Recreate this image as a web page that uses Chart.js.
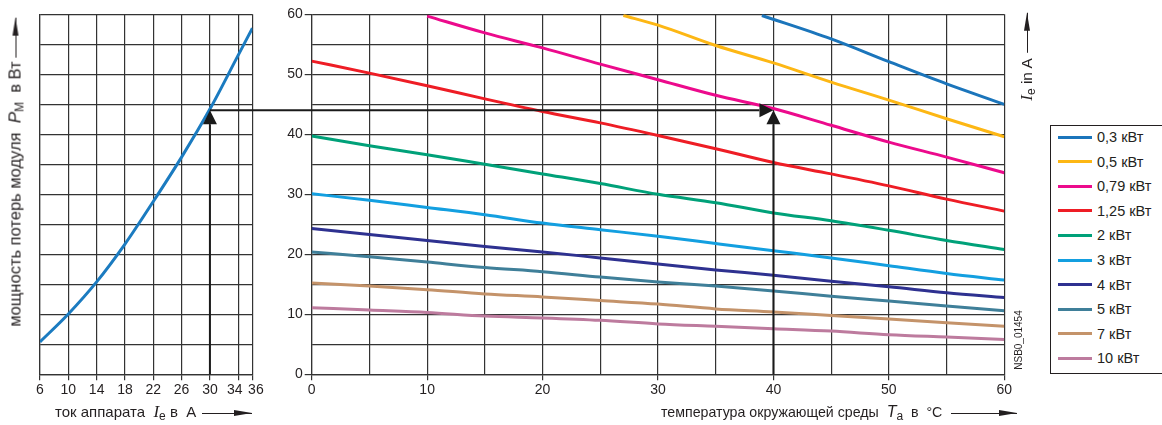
<!DOCTYPE html>
<html lang="ru">
<head>
<meta charset="UTF-8">
<title>Мощность потерь модуля</title>
<script src="https://cdn.jsdelivr.net/npm/chart.js"></script>
<style>
    body {
        margin: 0;
        background: #fff;
        font-family: "Liberation Sans", Arial, sans-serif;
        color: #231f20;
    }
    #page {
        position: relative;
        width: 1162px;
        height: 425px;
        overflow: hidden;
    }
    #left-wrap { position: absolute; left: 0; top: 0; }
    #right-wrap { position: absolute; left: 282px; top: 0; }
    .title {
        position: absolute;
        white-space: nowrap;
        font-size: 15px;
        line-height: 16px;
    }
    .vert { transform: translate(-50%, -50%) rotate(-90deg); }
    .sym { font-family: "Liberation Serif", serif; font-style: italic; font-size: 17px; }
    .symsans { font-style: italic; font-size: 16px; }
    sub { font-size: 12px; vertical-align: -3px; line-height: 0; }
    .arr {
        display: inline-block;
        position: relative;
        width: 50px;
        height: 1px;
        background: #231f20;
        vertical-align: middle;
        margin-left: 6px;
    }
    .arr::after {
        content: '';
        position: absolute;
        right: 0;
        top: -3px;
        border-left: 18px solid #231f20;
        border-top: 3.5px solid transparent;
        border-bottom: 3.5px solid transparent;
    }
    #legend {
        position: absolute;
        left: 1050px;
        top: 125px;
        width: 120px;
        height: 249px;
        border: 1px solid #231f20;
        box-sizing: border-box;
    }
    .item {
        position: absolute;
        left: 7px;
        height: 20px;
        font-size: 14.5px;
        line-height: 20px;
        white-space: nowrap;
    }
    .item span.line {
        display: inline-block;
        width: 34px;
        height: 3px;
        vertical-align: middle;
        margin-right: 5px;
        margin-top: -2px;
    }
    #code {
        position: absolute;
        left: 1018px;
        top: 340px;
        font-size: 10px;
        white-space: nowrap;
    }
</style>
</head>
<body>
<div id="page">
    <div id="left-wrap"><canvas id="lossChart" width="282" height="425"></canvas></div>
    <div id="right-wrap"><canvas id="currentChart" width="763" height="425"></canvas></div>

    <div class="title vert" style="left:15px; top:172px; font-size:16.5px;">мощность потерь модуля&nbsp; <span class="symsans" style="font-size:17px;">P</span><sub>M</sub>&nbsp; в Вт<span class="arr" style="width:40px; margin-left:4px;"></span></div>
    <div class="title" style="left:55px; top:404px;">ток аппарата&nbsp; <span class="sym">I</span><sub>e</sub> в&nbsp; А<span class="arr"></span></div>
    <div class="title" style="left:661px; top:404px; font-size:14.2px;">температура окружающей среды&nbsp; <span class="symsans">T</span><sub>a</sub>&nbsp; в&nbsp; °C<span class="arr" style="width:66px; margin-left:9px;"></span></div>
    <div class="title vert" style="left:1027px; top:57px; font-size:15.5px;"><span class="sym">I</span><sub>e</sub> in A<span class="arr" style="width:40px; margin-left:5px;"></span></div>
    <div id="code" class="vert">NSB0_01454</div>
    <div id="legend"></div>
</div>

<script>
    // left diagram: module power loss vs. device current
    const leftXTicks = [6, 10, 14, 18, 22, 26, 30, 34, 36];
    const deviceCurrent = [6, 10, 14, 18, 22, 26, 30, 34, 36];
    const powerLoss = [5.4, 10.05, 15.4, 21.7, 28.8, 36.2, 44.2, 53.2, 57.7];

    // right diagram: permissible current vs. ambient temperature
    const tempAxis = [0, 5, 10, 15, 20, 25, 30, 35, 40, 45, 50, 55, 60];
    const temp03 = [39, 45, 50, 55, 60];
    const cur03 = [59.8, 55.9, 52.1, 48.4, 45.0];
    const temp05 = [27, 30, 35, 40, 45, 50, 55, 60];
    const cur05 = [59.8, 58.2, 54.8, 51.9, 48.7, 45.7, 42.6, 39.6];
    const temp079 = [10, 15, 20, 25, 30, 35, 40, 45, 50, 55, 60];
    const cur079 = [59.7, 56.9, 54.4, 51.7, 49.1, 46.5, 44.3, 41.5, 38.7, 36.2, 33.6];
    const cur125 = [52.2, 50.2, 48.1, 45.9, 43.8, 41.9, 39.8, 37.6, 35.3, 33.4, 31.4, 29.2, 27.2];
    const cur2 = [39.7, 38.1, 36.6, 35.0, 33.4, 31.8, 30.0, 28.6, 26.9, 25.6, 24.0, 22.3, 20.8];
    const cur3 = [30.1, 29.0, 27.8, 26.6, 25.2, 24.1, 23.0, 21.8, 20.6, 19.4, 18.1, 16.8, 15.7];
    const cur4 = [24.3, 23.3, 22.3, 21.3, 20.4, 19.4, 18.4, 17.4, 16.5, 15.5, 14.6, 13.6, 12.8];
    const cur5 = [20.4, 19.6, 18.7, 17.8, 17.1, 16.2, 15.4, 14.7, 13.9, 13.0, 12.2, 11.4, 10.6];
    const cur7 = [15.2, 14.7, 14.1, 13.4, 12.9, 12.3, 11.7, 10.9, 10.4, 9.8, 9.2, 8.6, 8.0];
    const cur10 = [11.1, 10.7, 10.3, 9.7, 9.4, 9.0, 8.4, 8.0, 7.6, 7.2, 6.6, 6.2, 5.8];

    const seriesLabels = ['0,3 кВт', '0,5 кВт', '0,79 кВт', '1,25 кВт', '2 кВт', '3 кВт', '4 кВт', '5 кВт', '7 кВт', '10 кВт'];
    const seriesColors = ['#1b75bb', '#fdb714', '#ec0a8c', '#ee1d25', '#00a179', '#139fe0', '#2e3190', '#3f7f99', '#c4936a', '#bd7b9e'];

    // example read-off: 30 A -> 44 W -> 40 °C
    const exampleCurrent = 30;
    const examplePower = 44;
    const exampleTemp = 40;

    const gridColor = '#333333';
    const textColor = '#231f20';
    const tickFont = { family: '"Liberation Sans", Arial, sans-serif', size: 14 };

    const pairs = (xs, ys) => xs.map((x, i) => ({ x: x, y: ys[i] }));

    // draws the black read-off arrows in data coordinates
    const arrowPlugin = {
        id: 'arrows',
        afterDatasetsDraw(chart, args, opts) {
            const { ctx } = chart;
            const sx = chart.scales.x, sy = chart.scales.y;
            const px = v => v === 'left' ? 0 : v === 'right' ? chart.width : sx.getPixelForValue(v);
            ctx.save();
            ctx.strokeStyle = '#1a1a1a';
            ctx.fillStyle = '#1a1a1a';
            ctx.lineWidth = 2;
            (opts.items || []).forEach(a => {
                const x0 = px(a.from[0]), y0 = sy.getPixelForValue(a.from[1]);
                const x1 = px(a.to[0]), y1 = sy.getPixelForValue(a.to[1]);
                const ang = Math.atan2(y1 - y0, x1 - x0);
                const len = a.head ? 14 : 0;
                ctx.beginPath();
                ctx.moveTo(x0, y0);
                ctx.lineTo(x1 - Math.cos(ang) * len, y1 - Math.sin(ang) * len);
                ctx.stroke();
                if (a.head) {
                    const w = 7;
                    const bx = x1 - Math.cos(ang) * len, by = y1 - Math.sin(ang) * len;
                    ctx.beginPath();
                    ctx.moveTo(x1, y1);
                    ctx.lineTo(bx + Math.sin(ang) * w, by - Math.cos(ang) * w);
                    ctx.lineTo(bx - Math.sin(ang) * w, by + Math.cos(ang) * w);
                    ctx.closePath();
                    ctx.fill();
                }
            });
            ctx.restore();
        }
    };

    // left chart
    new Chart(document.getElementById('lossChart'), {
        type: 'line',
        data: {
            datasets: [{
                data: pairs(deviceCurrent, powerLoss),
                borderColor: '#1b7bc0',
                borderWidth: 3,
                pointRadius: 0,
                cubicInterpolationMode: 'monotone',
            }],
        },
        options: {
            responsive: false,
            animation: false,
            layout: { padding: { top: 14.3, right: 29.6, left: 0, bottom: 0 } },
            plugins: {
                legend: { display: false },
                tooltip: { enabled: false },
                arrows: {
                    items: [
                        { from: [exampleCurrent, 0], to: [exampleCurrent, examplePower], head: true },
                        { from: [exampleCurrent, examplePower], to: ['right', examplePower] },
                    ],
                },
            },
            scales: {
                x: {
                    type: 'linear',
                    min: 6,
                    max: 36,
                    afterBuildTicks: s => { s.ticks = leftXTicks.map(v => ({ value: v })); },
                    afterFit: s => { s.height = 50.7; },
                    grid: { color: gridColor, lineWidth: 1.2, tickLength: 6 },
                    border: { color: gridColor, width: 1.2 },
                    ticks: {
                        font: tickFont,
                        color: textColor,
                        autoSkip: false,
                        maxRotation: 0,
                        padding: 1,
                        // nudge the two crowded end labels apart
                        callback: v => v === 34 ? '34\u2002' : v === 36 ? '\u200236' : v,
                    },
                },
                y: {
                    min: 0,
                    max: 60,
                    afterFit: s => { s.width = 40; },
                    grid: { color: gridColor, lineWidth: 1.2, drawTicks: false },
                    border: { color: gridColor, width: 1.2 },
                    ticks: { stepSize: 5, display: false },
                },
            },
        },
        plugins: [arrowPlugin],
    });

    // right chart
    const rightData = [
        pairs(temp03, cur03),
        pairs(temp05, cur05),
        pairs(temp079, cur079),
        pairs(tempAxis, cur125),
        pairs(tempAxis, cur2),
        pairs(tempAxis, cur3),
        pairs(tempAxis, cur4),
        pairs(tempAxis, cur5),
        pairs(tempAxis, cur7),
        pairs(tempAxis, cur10),
    ];

    const tenOnly = c => (c.tick && c.tick.value % 10 === 0) ? gridColor : 'rgba(0,0,0,0)';

    new Chart(document.getElementById('currentChart'), {
        type: 'line',
        data: {
            datasets: rightData.map((d, i) => ({
                label: seriesLabels[i],
                data: d,
                borderColor: seriesColors[i],
                borderWidth: 3,
                pointRadius: 0,
                cubicInterpolationMode: 'monotone',
            })),
        },
        options: {
            responsive: false,
            animation: false,
            layout: { padding: { top: 14.3, right: 40.7, left: 0, bottom: 0 } },
            plugins: {
                legend: { display: false },
                tooltip: { enabled: false },
                arrows: {
                    items: [
                        { from: ['left', examplePower], to: [exampleTemp, examplePower], head: true },
                        { from: [exampleTemp, 0], to: [exampleTemp, examplePower], head: true },
                    ],
                },
            },
            scales: {
                x: {
                    type: 'linear',
                    min: 0,
                    max: 60,
                    afterFit: s => { s.height = 50.7; },
                    grid: { color: gridColor, lineWidth: 1.2, tickLength: 6, tickColor: tenOnly },
                    border: { color: gridColor, width: 1.2 },
                    ticks: {
                        stepSize: 5,
                        font: tickFont,
                        color: textColor,
                        autoSkip: false,
                        maxRotation: 0,
                        padding: 1,
                        callback: v => v % 10 === 0 ? v : '',
                    },
                },
                y: {
                    min: 0,
                    max: 60,
                    afterFit: s => { s.width = 29.7; },
                    grid: { color: gridColor, lineWidth: 1.2, tickLength: 7, tickColor: tenOnly },
                    border: { color: gridColor, width: 1.2 },
                    ticks: {
                        stepSize: 5,
                        font: tickFont,
                        color: textColor,
                        padding: 2,
                        callback: v => v % 10 === 0 ? v : '',
                    },
                },
            },
        },
        plugins: [arrowPlugin],
    });

    // legend box
    const legendBox = document.getElementById('legend');
    seriesLabels.forEach((label, i) => {
        const item = document.createElement('div');
        item.className = 'item';
        item.style.top = (1 + i * 24.6) + 'px';
        const line = document.createElement('span');
        line.className = 'line';
        line.style.background = seriesColors[i];
        item.appendChild(line);
        item.appendChild(document.createTextNode(label));
        legendBox.appendChild(item);
    });
</script>
</body>
</html>
